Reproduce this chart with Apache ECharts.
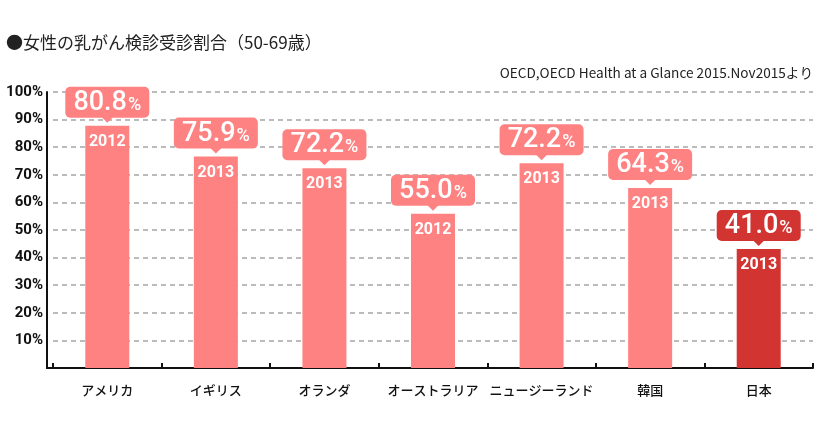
<!DOCTYPE html>
<html>
<head>
<meta charset="utf-8">
<script src="https://cdn.jsdelivr.net/npm/echarts@6/dist/echarts.min.js"></script>
<style>
html,body{margin:0;padding:0;background:#fff;}
#chart{width:820px;height:430px;}
</style>
</head>
<body>
<div id="chart"></div>
<script>
// ---- data ----
const countries = ['アメリカ', 'イギリス', 'オランダ', 'オーストラリア', 'ニュージーランド', '韓国', '日本'];
const years = ['2012', '2013', '2013', '2012', '2013', '2013', '2013'];
const rateLabels = ['80.8', '75.9', '72.2', '55.0', '72.2', '64.3', '41.0'];
// bar heights as drawn in the reference (percent on the axis)
const barValues = [87.8, 76.6, 72.4, 55.9, 74.2, 65.2, 43.1];
const yTicks = [0, 10, 20, 30, 40, 50, 60, 70, 80, 90, 100];
const highlightIndex = 6;

const PINK = '#ff8282';
const RED = '#d23431';

const chart = echarts.init(document.getElementById('chart'));

const option = {
  animation: false,
  title: [
    {
      text: '●女性の乳がん検診受診割合（50-69歳）',
      left: 1, top: 29,
      textStyle: {fontFamily: 'Noto Sans CJK JP', fontSize: 17, fontWeight: 'normal', color: '#222'}
    },
    {
      text: 'OECD,OECD Health at a Glance 2015.Nov2015より',
      right: 2, top: 61,
      textStyle: {fontFamily: 'Noto Sans CJK JP', fontSize: 13.6, fontWeight: 'normal', color: '#222'}
    }
  ],
  grid: {left: 53, right: 7, top: 92, bottom: 62},
  xAxis: {
    type: 'category',
    data: countries,
    axisLine: {show: true, lineStyle: {color: '#111', width: 2}},
    axisTick: {show: true, inside: true, length: 5, lineStyle: {color: '#111', width: 2}},
    axisLabel: {interval: 0, margin: 16, fontFamily: 'Noto Sans CJK JP', fontSize: 13, fontWeight: 500, color: '#111'}
  },
  yAxis: {
    type: 'value',
    min: yTicks[0], max: yTicks[yTicks.length - 1], interval: 10,
    offset: 6,
    axisLine: {show: true, lineStyle: {color: '#111', width: 2}},
    axisTick: {show: false},
    axisLabel: {
      margin: 4,
      fontFamily: 'Roboto', fontSize: 15, fontWeight: 'bold', color: '#111',
      formatter: v => (v === 0 ? '' : v + '%')
    },
    splitLine: {show: true, lineStyle: {color: '#bbbbbb', width: 2, type: [5, 4]}}
  },
  graphic: [
    {type: 'line', shape: {x1: 46, y1: 368, x2: 54, y2: 368}, style: {stroke: '#111', lineWidth: 2}, z: 100}
  ],
  series: [
    {
      type: 'bar',
      barWidth: 44,
      data: barValues.map((v, i) => ({
        value: v,
        itemStyle: {color: i === highlightIndex ? RED : PINK}
      })),
      label: {
        show: true,
        position: 'insideTop',
        distance: 8,
        formatter: p => years[p.dataIndex],
        fontFamily: 'Roboto', fontSize: 16, fontWeight: 'bold', color: '#fff'
      },
      z: 2
    },
    {
      type: 'custom',
      coordinateSystem: 'cartesian2d',
      encode: {x: 0, y: 1},
      data: barValues.map((v, i) => [i, v]),
      z: 5,
      renderItem: function (params, api) {
        const i = api.value(0);
        const p = api.coord([i, api.value(1)]);
        const color = i === highlightIndex ? RED : PINK;
        const w = 84, h = 31, gap = 8;
        const bx = p[0] - w / 2;
        const by = p[1] - gap - h;
        return {
          type: 'group',
          children: [
            {type: 'rect', shape: {x: bx, y: by, width: w, height: h, r: 5}, style: {fill: color}},
            {type: 'polygon', shape: {points: [[p[0] - 6, by + h - 1], [p[0] + 6, by + h - 1], [p[0], p[1] - 3]]}, style: {fill: color}},
            {
              type: 'text',
              x: p[0], y: by + h / 2 + 1,
              style: {
                text: '{a|' + rateLabels[i] + '}{b|%}',
                align: 'center', verticalAlign: 'middle',
                fill: '#fff',
                rich: {
                  a: {fontFamily: 'Roboto', fontSize: 27, fontWeight: 500, color: '#fff', lineHeight: 28},
                  b: {fontFamily: 'Roboto', fontSize: 18, fontWeight: 500, color: '#fff', lineHeight: 28, padding: [4, 0, 0, 1]}
                }
              }
            }
          ]
        };
      }
    }
  ]
};

chart.setOption(option);
</script>
</body>
</html>
